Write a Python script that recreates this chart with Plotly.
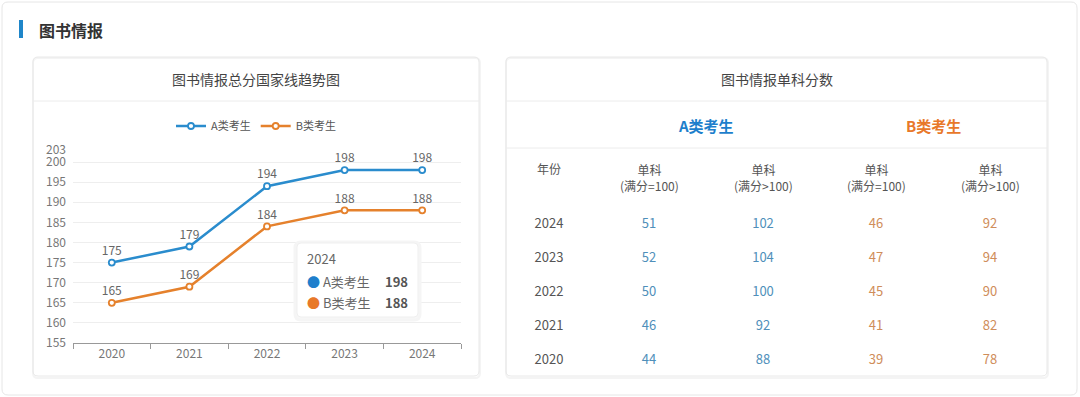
import plotly.graph_objects as go

# ---------------- data ----------------
years = ["2020", "2021", "2022", "2023", "2024"]
a_total = [175, 179, 194, 198, 198]
b_total = [165, 169, 184, 188, 188]
y_ticks = [155, 160, 165, 170, 175, 180, 185, 190, 195, 200, 203]

table_years = ["2024", "2023", "2022", "2021", "2020"]
a_single_100 = [51, 52, 50, 46, 44]
a_single_gt100 = [102, 104, 100, 92, 88]
b_single_100 = [46, 47, 45, 41, 39]
b_single_gt100 = [92, 94, 90, 82, 78]
col_headers = ["年份", "单科<br>(满分=100)", "单科<br>(满分>100)", "单科<br>(满分=100)", "单科<br>(满分>100)"]
group_headers = ["A类考生", "B类考生"]
series_names = ["A类考生", "B类考生"]

page_title = "图书情报"
left_title = "图书情报总分国家线趋势图"
right_title = "图书情报单科分数"
tooltip_year = "2024"

# ---------------- style ----------------
W, H = 1080, 397
FONT = "Noto Sans CJK SC"
BLUE = "#2a8ccd"
ORANGE = "#e5812c"
BLUE_TXT = "#4f8fba"
ORANGE_TXT = "#cf8d5a"
BLUE_HDR = "#1e7fcc"
ORANGE_HDR = "#e8782a"


def px(x):
    return x / W


def py(y):
    return 1 - y / H


def rrect(x0, y0, x1, y1, r):
    return (f"M{x0+r},{y0} L{x1-r},{y0} Q{x1},{y0} {x1},{y0+r} L{x1},{y1-r} Q{x1},{y1} {x1-r},{y1} "
            f"L{x0+r},{y1} Q{x0},{y1} {x0},{y1-r} L{x0},{y0+r} Q{x0},{y0} {x0+r},{y0} Z")


fig = go.Figure()

# ---------------- line chart ----------------
for name, vals, col in [(series_names[0], a_total, BLUE), (series_names[1], b_total, ORANGE)]:
    fig.add_trace(go.Scatter(
        x=years, y=vals, name=name, mode="lines+markers+text",
        text=[str(v) for v in vals], textposition="top center",
        textfont=dict(family=FONT, size=12, color="#666666"),
        line=dict(color=col, width=2.5),
        marker=dict(size=6, color="white", line=dict(color=col, width=1.8)),
        hoverinfo="skip", xaxis="x", yaxis="y",
    ))

# ---------------- table body (text on pixel axes) ----------------
col_x = [549, 649, 763, 876, 990]
row_y0, row_dy = 225, 34
rows_y = [row_y0 + i * row_dy for i in range(len(table_years))]
table_cols = [
    (table_years, "#555555"),
    (a_single_100, BLUE_TXT),
    (a_single_gt100, BLUE_TXT),
    (b_single_100, ORANGE_TXT),
    (b_single_gt100, ORANGE_TXT),
]
for cx, (vals, col) in zip(col_x, table_cols):
    fig.add_trace(go.Scatter(
        x=[cx] * len(vals), y=rows_y, mode="text",
        text=[str(v) for v in vals],
        textfont=dict(family=FONT, size=13, color=col),
        showlegend=False, hoverinfo="skip", xaxis="x2", yaxis="y2",
    ))

shapes = []
annotations = []

# outer card
shapes.append(dict(type="path", xref="x2", yref="y2", path=rrect(2, 2, 1077, 395, 6),
                   line=dict(color="#e6e6e6", width=1), fillcolor="rgba(0,0,0,0)", layer="below"))
# header bar
shapes.append(dict(type="rect", xref="x2", yref="y2", x0=19, x1=23, y0=20, y1=38,
                   line=dict(width=0), fillcolor="#1f86c9", layer="below"))
annotations.append(dict(xref="x2", yref="y2", x=37, y=30, xanchor="left", yanchor="middle",
                        text=f"<b>{page_title}</b>", showarrow=False,
                        font=dict(family=FONT, size=16, color="#333333")))

# cards
for (x0, x1, title) in [(33, 479, left_title), (506, 1047, right_title)]:
    shapes.append(dict(type="path", xref="x2", yref="y2", path=rrect(x0, 58, x1 + 1, 378, 5),
                       line=dict(color="#f4f4f4", width=2), fillcolor="rgba(0,0,0,0)", layer="below"))
    shapes.append(dict(type="path", xref="x2", yref="y2", path=rrect(x0, 57, x1, 376, 5),
                       line=dict(color="#e8e8e8", width=1), fillcolor="rgba(0,0,0,0)", layer="below"))
    shapes.append(dict(type="line", xref="x2", yref="y2", x0=x0, x1=x1, y0=101, y1=101,
                       line=dict(color="#ececec", width=1), layer="below"))
    annotations.append(dict(xref="x2", yref="y2", x=(x0 + x1) / 2, y=79, xanchor="center", yanchor="middle",
                            text=title, showarrow=False, font=dict(family=FONT, size=14, color="#444444")))

# right table separators & headers
shapes.append(dict(type="line", xref="x2", yref="y2", x0=506, x1=1047, y0=148, y1=148,
                   line=dict(color="#ececec", width=1), layer="below"))
for gx, gtxt, gcol in [(706, group_headers[0], BLUE_HDR), (933, group_headers[1], ORANGE_HDR)]:
    annotations.append(dict(xref="x2", yref="y2", x=gx, y=125, xanchor="center", yanchor="middle",
                            text=f"<b>{gtxt}</b>", showarrow=False,
                            font=dict(family=FONT, size=15, color=gcol)))
for i, (cx, htxt) in enumerate(zip(col_x, col_headers)):
    annotations.append(dict(xref="x2", yref="y2", x=cx, y=168 if i == 0 else 177,
                            xanchor="center", yanchor="middle", text=htxt, showarrow=False,
                            font=dict(family=FONT, size=12, color="#555555")))

# axis pointer dashed line at 2024
shapes.append(dict(type="line", xref="x", yref="paper", x0=years[-1], x1=years[-1],
                   y0=py(343), y1=py(150), line=dict(color="#cccccc", width=1, dash="dash"), layer="below"))

# tooltip box (soft shadow + white box)
shapes.append(dict(type="path", xref="x2", yref="y2", path=rrect(295, 242, 420, 320, 6),
                   line=dict(color="#f5f5f5", width=3), fillcolor="#f7f7f7", layer="above"))
shapes.append(dict(type="path", xref="x2", yref="y2", path=rrect(297, 243, 418, 317, 4),
                   line=dict(color="#efefef", width=1), fillcolor="white", layer="above"))
annotations.append(dict(xref="x2", yref="y2", x=305, y=258, xanchor="left", yanchor="middle",
                        text=tooltip_year, showarrow=False, font=dict(family=FONT, size=13, color="#666666")))
for ry, nm, val, col in [(281, series_names[0], a_total[-1], BLUE_HDR), (302, series_names[1], b_total[-1], ORANGE_HDR)]:
    annotations.append(dict(xref="x2", yref="y2", x=305, y=ry, xanchor="left", yanchor="middle",
                            text=f"<span style='color:{col}'>●</span> {nm}", showarrow=False,
                            font=dict(family=FONT, size=13, color="#666666")))
    annotations.append(dict(xref="x2", yref="y2", x=410, y=ry, xanchor="right", yanchor="middle",
                            text=f"<b>{val}</b>", showarrow=False,
                            font=dict(family=FONT, size=13, color="#555555")))

fig.update_layout(
    width=W, height=H, margin=dict(l=0, r=0, t=0, b=0, pad=0, autoexpand=False),
    paper_bgcolor="white", plot_bgcolor="rgba(0,0,0,0)",
    hovermode=False,
    font=dict(family=FONT, color="#666666"),
    showlegend=True,
    legend=dict(orientation="h", x=px(256), y=py(126), xanchor="center", yanchor="middle",
                font=dict(family=FONT, size=11, color="#555555"), bgcolor="rgba(0,0,0,0)",
                itemwidth=30),
    xaxis=dict(domain=[px(73), px(461)], type="category", range=[-0.5, 4.5],
               showgrid=False, showline=True, linecolor="#999999", linewidth=1,
               ticks="outside", tickson="boundaries", ticklen=5, tickcolor="#999999",
               tickfont=dict(family=FONT, size=12, color="#777777"), fixedrange=True,
               anchor="y", automargin=False),
    yaxis=dict(domain=[py(343), py(150)], range=[155, 203], tickvals=y_ticks,
               showgrid=True, gridcolor="#eeeeee", gridwidth=1, zeroline=False, showline=False,
               tickfont=dict(family=FONT, size=12, color="#777777"), ticks="", ticklabelstandoff=6,
               fixedrange=True, anchor="x", automargin=False),
    xaxis2=dict(domain=[0, 1], range=[0, W], visible=False, fixedrange=True, anchor="y2"),
    yaxis2=dict(domain=[0, 1], range=[H, 0], visible=False, fixedrange=True, anchor="x2"),
    shapes=shapes, annotations=annotations,
)

fig.write_html("out.html", config={"displayModeBar": False})
